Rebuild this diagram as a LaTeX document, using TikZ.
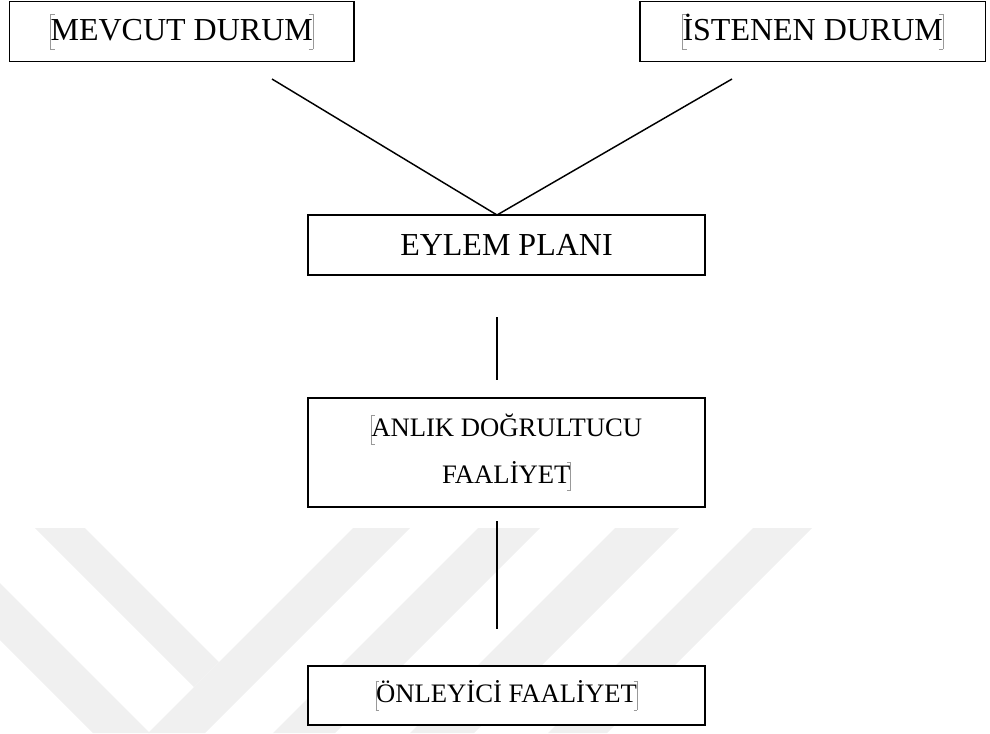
\documentclass[tikz,border=0pt]{standalone}
\usepackage{fontspec}
\setmainfont{Liberation Serif}
\usetikzlibrary{positioning}
% gray field marks round the texts
\newcommand{\fldL}{\textcolor{black!40}{\rlap{\rule[-.28em]{.14em}{.3pt}}\rlap{\rule[.8em]{.14em}{.3pt}}\rule[-.28em]{.3pt}{1.1em}}}
\newcommand{\fldR}{\textcolor{black!40}{\rule[-.28em]{.3pt}{1.1em}\llap{\rule[-.28em]{.14em}{.3pt}}\llap{\rule[.8em]{.14em}{.3pt}}}}
\tikzset{
  kutu/.style={draw, line width=1.4pt, fill=white, inner sep=0pt, align=center,
               font=\fontsize{24}{30}\selectfont},
  altkutu/.style={kutu, font=\fontsize{20}{35}\selectfont},
  bag/.style={line width=1.1pt},
  filigran/.style={fill=black!6, draw=none},
}
\begin{document}
\begin{tikzpicture}[x=0.75pt, y=-0.75pt]
    \useasboundingbox (0,0) rectangle (990,733);
    % watermark
    \fill[filigran] (35,528) -- (85,528) -- (219,662) -- (194,687) -- cycle;
    \fill[filigran] (353,528) -- (410,528) -- (205,733) -- (148,733) -- cycle;
    \fill[filigran] (0,583) -- (150,733) -- (93,733) -- (0,640) -- cycle;
    \foreach \xa/\xb in {478/540, 615/679, 753/812}
      \fill[filigran] (\xa,528) -- (\xb,528) -- (\xb-205,733) -- (\xa-205,733) -- cycle;

    \node[kutu, minimum width=258.4pt, minimum height=45pt] (mevcut) at (181.75,31.5) {\fldL MEVCUT DURUM\fldR};
    \node[kutu, minimum width=259.1pt, minimum height=45pt] (istenen) at (812.75,31.5) {\fldL İSTENEN DURUM\fldR};
    \node[kutu, minimum width=297.75pt, minimum height=45pt] (eylem) at (506.5,245) {EYLEM PLANI};
    \node[altkutu, minimum width=297.75pt, minimum height=81.75pt] (anlik) at (506.5,452.5) {\fldL ANLIK DOĞRULTUCU\\FAALİYET\fldR};
    \node[altkutu, minimum width=297.75pt, minimum height=44.25pt] (onleyici) at (506.5,695.5) {\fldL ÖNLEYİCİ FAALİYET\fldR};

    \coordinate (sol) at (272,79);
    \coordinate (sag) at (732,79);
    \coordinate (tepe) at (497,215);
    \coordinate (d1) at (497,317);
    \coordinate (d2) at (497,380);
    \coordinate (d3) at (497,521);
    \coordinate (d4) at (497,629);
    \draw[bag] (sol) -- (tepe) -- (sag);
    \draw[bag] (d1) -- (d2);
    \draw[bag] (d3) -- (d4);
\end{tikzpicture}
\end{document}
